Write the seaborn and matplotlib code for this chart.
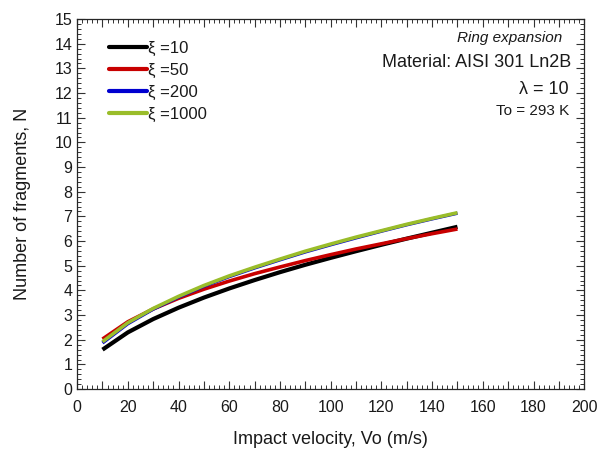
import numpy as np
import pandas as pd
import matplotlib
matplotlib.use("Agg")
import matplotlib.pyplot as plt
from matplotlib.ticker import MultipleLocator, FuncFormatter
import seaborn as sns

# values
velocity = [10, 20, 30, 40, 50, 60, 70, 80, 90, 100, 110, 120, 130, 140, 150]
n_xi10 = [1.60, 2.30, 2.84, 3.30, 3.71, 4.08, 4.42, 4.74, 5.04, 5.32, 5.59, 5.85, 6.10, 6.34, 6.58]
n_xi50 = [2.03, 2.73, 3.25, 3.68, 4.05, 4.38, 4.68, 4.95, 5.21, 5.45, 5.68, 5.89, 6.10, 6.30, 6.49]
n_xi200 = [1.87, 2.65, 3.24, 3.73, 4.17, 4.56, 4.91, 5.24, 5.56, 5.85, 6.13, 6.40, 6.66, 6.90, 7.13]
n_xi1000 = [1.92, 2.69, 3.27, 3.76, 4.20, 4.59, 4.94, 5.27, 5.59, 5.88, 6.16, 6.42, 6.68, 6.92, 7.15]

labels = ["ξ =10", "ξ =50", "ξ =200", "ξ =1000"]
colors = ["#000000", "#c80000", "#0000d0", "#9abd2a"]
widths = [3.0, 2.6, 2.4, 2.6]

rows = []
for lab, vals in zip(labels, [n_xi10, n_xi50, n_xi200, n_xi1000]):
    for v, n in zip(velocity, vals):
        rows.append({"Vo": v, "N": n, "case": lab})
df = pd.DataFrame(rows)

sns.set_style("ticks")
plt.rcParams['font.family'] = ['Liberation Sans', 'DejaVu Sans']
plt.rcParams['text.color'] = '#1a1a1a'

fig = plt.figure(figsize=(5.98, 4.53), dpi=100)
ax = fig.add_axes([0.129, 0.141, 0.848, 0.817])

sns.lineplot(data=df, x="Vo", y="N", hue="case", hue_order=labels,
             palette=colors, ax=ax, legend=False)
for line, lw in zip(ax.lines, widths):
    line.set_linewidth(lw)
    line.set_solid_capstyle("butt")

ax.set_xlim(0, 200)
ax.set_ylim(0, 15)
ax.xaxis.set_major_locator(MultipleLocator(10))
ax.xaxis.set_minor_locator(MultipleLocator(2))
ax.xaxis.set_major_formatter(FuncFormatter(lambda v, p: f"{int(v)}" if int(round(v)) % 20 == 0 else ""))
ax.yaxis.set_major_locator(MultipleLocator(1))
ax.yaxis.set_minor_locator(MultipleLocator(0.2))
ax.tick_params(which="both", direction="in", top=True, right=True, labelsize=11.5,
               color="#333333", labelcolor="#1a1a1a")
ax.tick_params(which="major", length=6, width=0.8)
ax.tick_params(which="minor", length=3, width=0.7)
ax.tick_params(axis="x", pad=8)
for s in ax.spines.values():
    s.set_linewidth(0.9)

ax.set_xlabel("Impact velocity, Vo (m/s)", fontsize=13, labelpad=11, color="#1a1a1a")
ax.set_ylabel("Number of fragments, N", fontsize=13, labelpad=17, color="#1a1a1a")

handles = [plt.Line2D([], [], color=c, lw=3) for c in colors]
ax.legend(handles, labels, loc="upper left", frameon=False, fontsize=12,
          handlelength=2.3, handletextpad=0.05, labelspacing=0.42,
          bbox_to_anchor=(0.05, 0.96), borderaxespad=0)

ax.text(0.957, 0.95, "Ring expansion", transform=ax.transAxes, ha="right", va="center",
        fontsize=11, style="italic")
ax.text(0.975, 0.882, "Material: AISI 301 Ln2B", transform=ax.transAxes, ha="right",
        va="center", fontsize=13)
ax.text(0.97, 0.81, "λ = 10", transform=ax.transAxes, ha="right", va="center", fontsize=13)
ax.text(0.97, 0.752, "To = 293 K", transform=ax.transAxes, ha="right", va="center", fontsize=11)

fig.savefig("out.png", dpi=100)
